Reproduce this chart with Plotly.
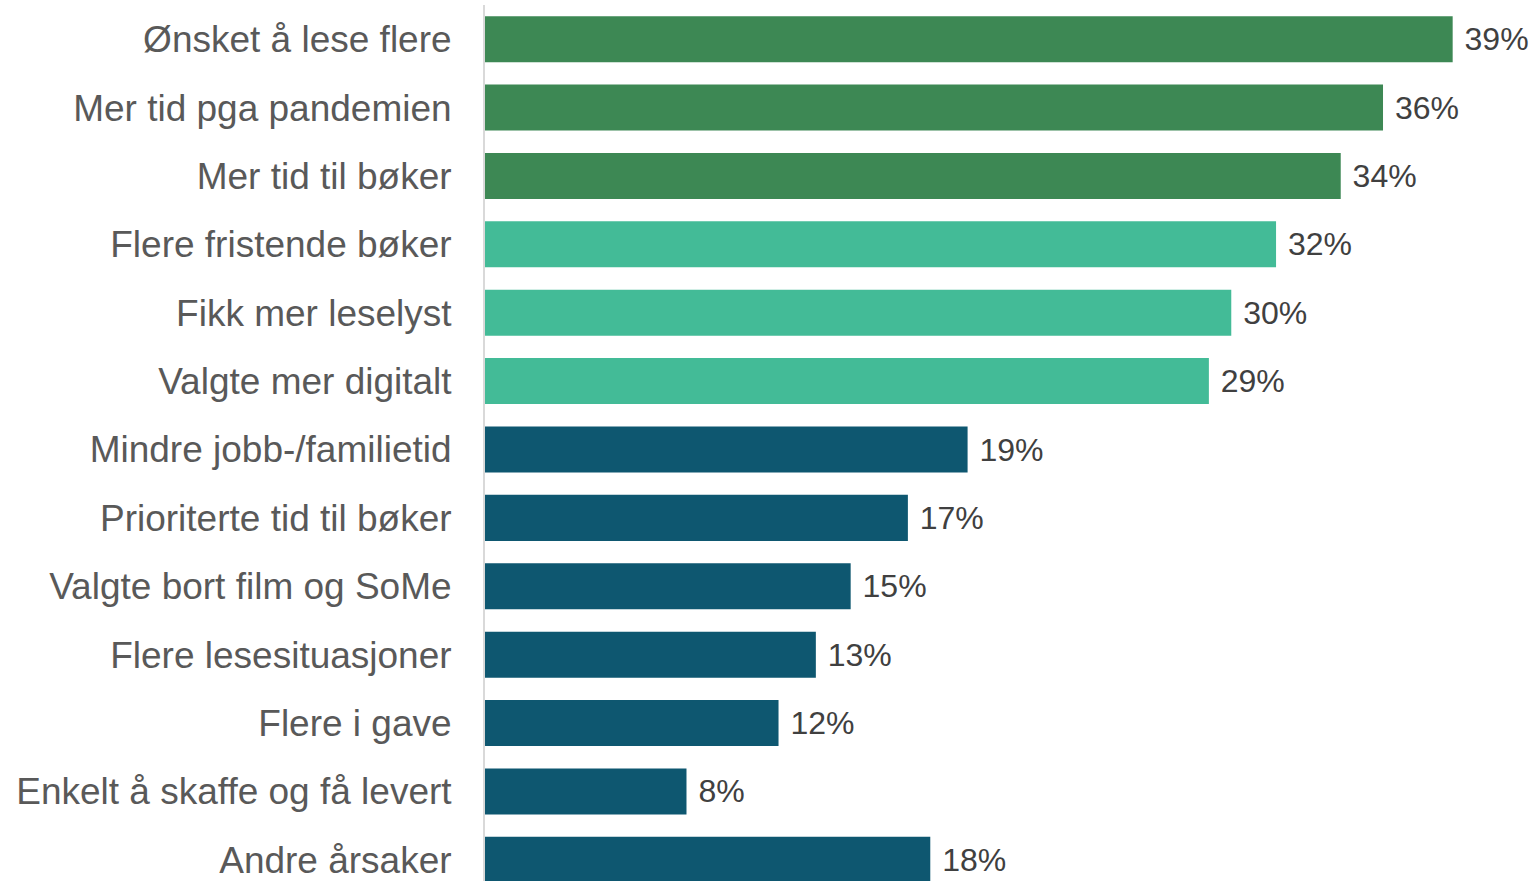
import plotly.graph_objects as go

categories = [
    "Ønsket å lese flere",
    "Mer tid pga pandemien",
    "Mer tid til bøker",
    "Flere fristende bøker",
    "Fikk mer leselyst",
    "Valgte mer digitalt",
    "Mindre jobb-/familietid",
    "Prioriterte tid til bøker",
    "Valgte bort film og SoMe",
    "Flere lesesituasjoner",
    "Flere i gave",
    "Enkelt å skaffe og få levert",
    "Andre årsaker",
]
values = [38.9, 36.1, 34.4, 31.8, 30.0, 29.1, 19.4, 17.0, 14.7, 13.3, 11.8, 8.1, 17.9]
groups = ["a", "a", "a", "b", "b", "b", "c", "c", "c", "c", "c", "c", "c"]
group_colors = {"a": "#3D8854", "b": "#43BB97", "c": "#0E5770"}

fig = go.Figure(
    go.Bar(
        x=values,
        y=categories,
        orientation="h",
        marker=dict(color=[group_colors[g] for g in groups], line=dict(width=0)),
        texttemplate=" %{x:.0f}%",
        textposition="outside",
        textfont=dict(size=32, color="#404040", family="Liberation Sans, Arial, sans-serif"),
        cliponaxis=False,
        hoverinfo="skip",
    )
)

fig.update_layout(
    width=1536,
    height=881,
    margin=dict(l=485, r=0, t=5, b=0),
    paper_bgcolor="white",
    plot_bgcolor="white",
    bargap=0.327,
    showlegend=False,
    font=dict(family="Liberation Sans, Arial, sans-serif"),
)
fig.update_xaxes(
    range=[0, 42.25],
    showgrid=False,
    zeroline=False,
    showticklabels=False,
    showline=False,
    ticks="",
)
fig.update_yaxes(
    type="category",
    categoryorder="array",
    categoryarray=categories,
    range=[12.31, -0.5],
    showgrid=False,
    zeroline=False,
    showline=True,
    linecolor="#D9D9D9",
    linewidth=2,
    ticks="",
    ticklabelstandoff=24,
    tickfont=dict(size=37, color="#595959", family="Liberation Sans, Arial, sans-serif"),
)

fig.write_html("out.html")
